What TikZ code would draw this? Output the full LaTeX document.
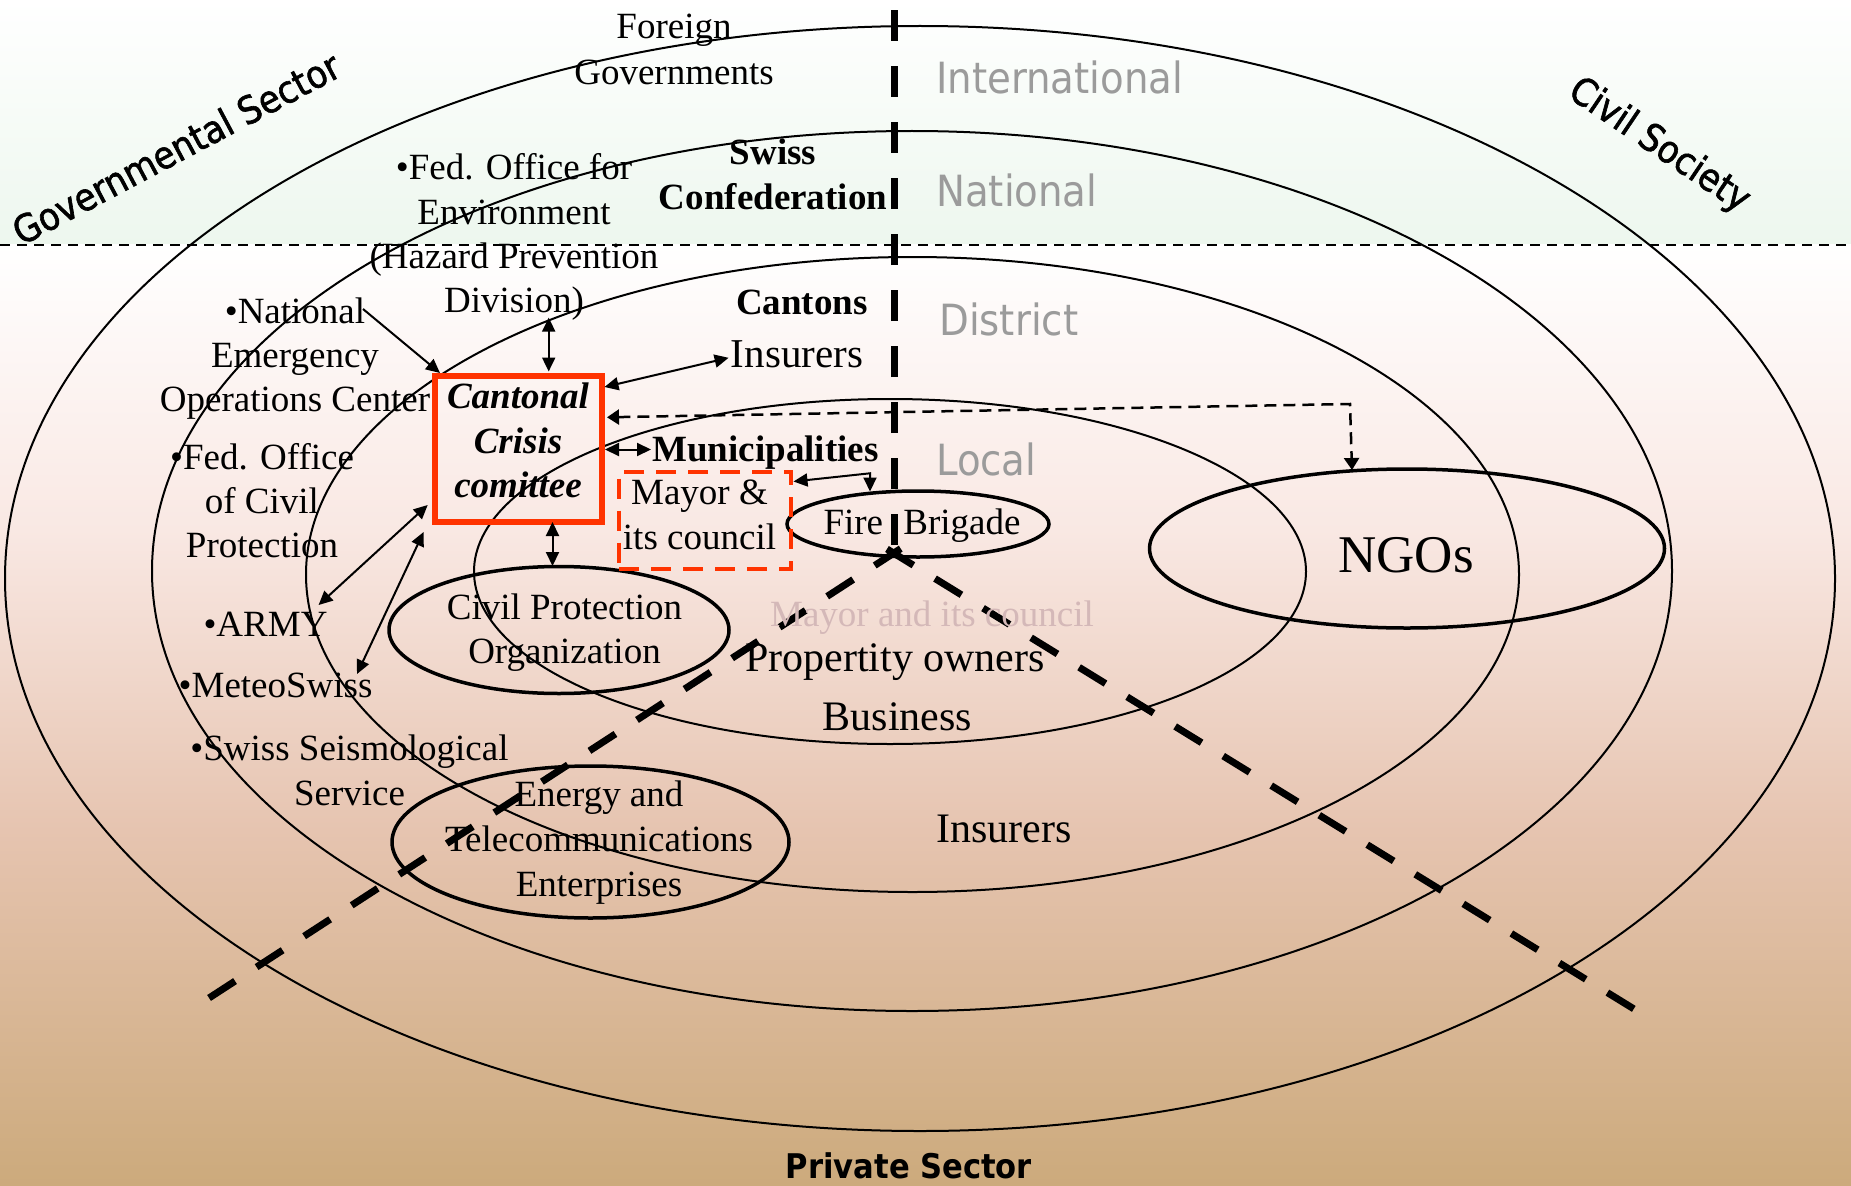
\documentclass[tikz,border=0pt]{standalone}
\usepackage{fontspec}
\setmainfont{Liberation Serif}
\newfontfamily\sanscond{DejaVu Sans Condensed}
\newfontfamily\sansmed{DejaVu Sans Condensed}[FakeBold=1.6]
\usetikzlibrary{arrows.meta}
\definecolor{ccred}{RGB}{255,51,0}
\definecolor{lvlgray}{RGB}{155,155,155}
\definecolor{faded}{RGB}{212,184,184}
\definecolor{topgreen}{RGB}{237,247,238}
\definecolor{bgA}{RGB}{255,255,255}
\definecolor{bgB}{RGB}{249,232,227}
\definecolor{bgC}{RGB}{230,196,176}
\definecolor{bgD}{RGB}{204,170,124}
\begin{document}
\begin{tikzpicture}[x=1pt,y=-1pt,
  ring/.style={line width=2pt},
  boldring/.style={line width=3.5pt},
  sectorline/.style={line width=7pt, dash pattern=on 31pt off 25pt},
  lab/.style={inner sep=0pt, anchor=base},
  blk/.style 2 args={inner sep=0pt, anchor=north, align=center, font=\fontsize{#1}{#2}\selectfont},
  lvl/.style={inner sep=0pt, anchor=base west, text=lvlgray, font=\sanscond\fontsize{43}{51}\selectfont},
  both/.style={line width=2pt, {Triangle[length=14pt,width=13pt]}-{Triangle[length=14pt,width=13pt]}},
  one/.style={line width=2pt, -{Triangle[length=14pt,width=13pt]}},
  dashedarrow/.style={line width=2.5pt, dash pattern=on 12pt off 7pt, {Triangle[length=12pt,width=15pt]}-{Triangle[length=12pt,width=15pt]}},
]
\useasboundingbox (0,0) rectangle (1851,1185);
% background
\shade[top color=white, bottom color=topgreen] (0,0) rectangle (1851,245);
\shade[top color=bgA, bottom color=bgB] (0,244.5) rectangle (1851,530.5);
\shade[top color=bgB, bottom color=bgC] (0,530) rectangle (1851,830.5);
\shade[top color=bgC, bottom color=bgD] (0,830) rectangle (1851,1185);
% horizontal divider
\coordinate (hl) at (0,245);
\coordinate (hr) at (1851,245);
\draw[line width=1.5pt, dash pattern=on 10pt off 7pt] (hl) -- (hr);
% rings
\draw[ring] (920,578.5) ellipse [x radius=915, y radius=552.5];
\draw[ring] (912,571) ellipse [x radius=760, y radius=440];
\draw[ring] (912.5,574.5) ellipse [x radius=606.5, y radius=317.5];
\draw[ring] (890,571.5) ellipse [x radius=416, y radius=172.5];
% bold ellipses
\draw[boldring] (918,524) ellipse [x radius=131, y radius=33];
\draw[boldring] (1407,548.5) ellipse [x radius=257.5, y radius=79.5];
\draw[boldring] (559,630) ellipse [x radius=170, y radius=63.5];
\draw[boldring] (590.5,842) ellipse [x radius=198.5, y radius=76];
% sector lines
\coordinate (vtop) at (894,10);
\coordinate (vbot) at (894,545);
\coordinate (lstart) at (900.7,548.6);
\coordinate (lend) at (209,998);
\coordinate (rstart) at (887,549);
\coordinate (rend) at (1634,1009);
\draw[sectorline] (vbot) -- (vtop);
\draw[sectorline, dash pattern=on 31pt off 25.7pt] (lstart) -- (lend);
\draw[sectorline, dash pattern=on 31pt off 25.4pt] (rstart) -- (rend);
% texts
\node[blk={37}{46}] (foreign) at (674,6.3) {\strut Foreign\\\strut Governments};
\node[blk={37}{44.3}] (fedenv) at (514,148.5) {\strut •Fed. Office for\\\strut Environment\\\strut (Hazard Prevention\\\strut Division)};
\node[blk={37}{45}, font=\bfseries\fontsize{37}{45}\selectfont] (swiss) at (773,133.1) {\strut Swiss\\\strut Confederation};
\node[lab, font=\bfseries\fontsize{37}{44}\selectfont] (cantons) at (802,314) {Cantons};
\node[lab, font=\fontsize{41}{49}\selectfont] (insU) at (797,367) {Insurers};
\node[blk={37}{44.2}] (natl) at (295,292.1) {\strut •National\\\strut Emergency\\\strut Operations Center};
\node[blk={37}{44.5}, font=\bfseries\itshape\fontsize{37}{44.5}\selectfont] (ccctxt) at (518,377.55) {\strut Cantonal\\\strut Crisis\\\strut comittee};
\node[blk={37}{44}] (fedcp) at (262,438) {\strut •Fed. Office\\\strut of Civil\\\strut Protection};
\node[lab, font=\bfseries\fontsize{37}{44}\selectfont] (munic) at (765.5,461) {Municipalities};
\node[blk={37}{44.6}] (mayor) at (699.5,473.2) {\strut Mayor \&\\\strut its council};
\node[lab, font=\fontsize{37}{44}\selectfont] (fire) at (922,534) {Fire\hspace{11pt} Brigade};
\node[lab, font=\fontsize{53}{60}\selectfont] (ngos) at (1406,572) {NGOs};
\node[blk={37}{43.4}] (cpo) at (564.5,589.2) {\strut Civil Protection\\\strut Organization};
\node[lab, font=\fontsize{37}{44}\selectfont, text=faded] (mayor2) at (932,626) {Mayor and its council};
\node[lab, font=\fontsize{42}{50}\selectfont] (prop) at (895,671.6) {Propertity owners};
\node[lab, font=\fontsize{42}{50}\selectfont] (bus) at (897.5,730.4) {Business};
\node[lab, font=\fontsize{42}{50}\selectfont] (insL) at (1004,842.4) {Insurers};
\node[lab, font=\fontsize{37}{44}\selectfont] (army) at (265.5,636.3) {•ARMY};
\node[lab, font=\fontsize{37}{44}\selectfont] (meteo) at (275.6,697) {•MeteoSwiss};
\node[blk={37}{44.8}] (seis) at (349.5,729.4) {\strut •Swiss Seismological\\\strut Service};
\node[blk={37}{45}] (energy) at (599,774.5) {\strut Energy and\\\strut Telecommunications\\\strut Enterprises};
% level labels
\node[lvl] (intl) at (936,94) {International};
\node[lvl] (natlv) at (936,207) {National};
\node[lvl] (dist) at (939,335) {District};
\node[lvl] (loc) at (936,475) {Local};
% sector labels
\node[inner sep=0pt, font=\sansmed\fontsize{38}{45}\selectfont, rotate=28] (gov) at (176,148) {Governmental Sector};
\node[inner sep=0pt, font=\sansmed\fontsize{38}{45}\selectfont, rotate=-34] (civ) at (1659,146) {Civil Society};
\node[lab, font=\sanscond\bfseries\fontsize{34}{40}\selectfont] (priv) at (909,1178) {Private Sector};
% boxes
\node[draw=ccred, line width=6pt, minimum width=167pt, minimum height=146pt, inner sep=0pt, outer sep=3pt] (ccc) at (518,448.5) {};
\node[draw=ccred, line width=4pt, dash pattern=on 20pt off 12pt, minimum width=172pt, minimum height=97pt, inner sep=0pt] (mbox) at (705,520) {};
% connector end points
\coordinate (natlA) at (363,309);
\coordinate (cccNW) at (440,373);
\coordinate (divA) at (548.7,317.6);
\coordinate (cccN) at (548.7,371.5);
\coordinate (cccE1) at (604.5,387);
\coordinate (insA) at (728.6,357.8);
\coordinate (cccE2) at (607,417.3);
\coordinate (ngoBend) at (1350,404);
\coordinate (ngoTop) at (1352,470);
\coordinate (cccE3) at (605,449.5);
\coordinate (municA) at (651,449.5);
\coordinate (cccS) at (552.5,522);
\coordinate (cpoTop) at (552.5,566);
\coordinate (mayorA) at (793.5,481.5);
\coordinate (fireBend) at (870,473.3);
\coordinate (fireTop) at (870,491.5);
\coordinate (cccW1) at (427.7,505);
\coordinate (armyA) at (318.6,605);
\coordinate (cccW2) at (423.6,532);
\coordinate (meteoA) at (357,674);
% connectors
\draw[one] (natlA) -- (cccNW);
\draw[both] (divA) -- (cccN);
\draw[both] (cccE1) -- (insA);
\draw[dashedarrow] (cccE2) -- (ngoBend) -- (ngoTop);
\draw[both] (cccE3) -- (municA);
\draw[both] (cccS) -- (cpoTop);
\draw[both] (mayorA) -- (fireBend) -- (fireTop);
\draw[both] (cccW1) -- (armyA);
\draw[both] (cccW2) -- (meteoA);
\end{tikzpicture}
\end{document}
